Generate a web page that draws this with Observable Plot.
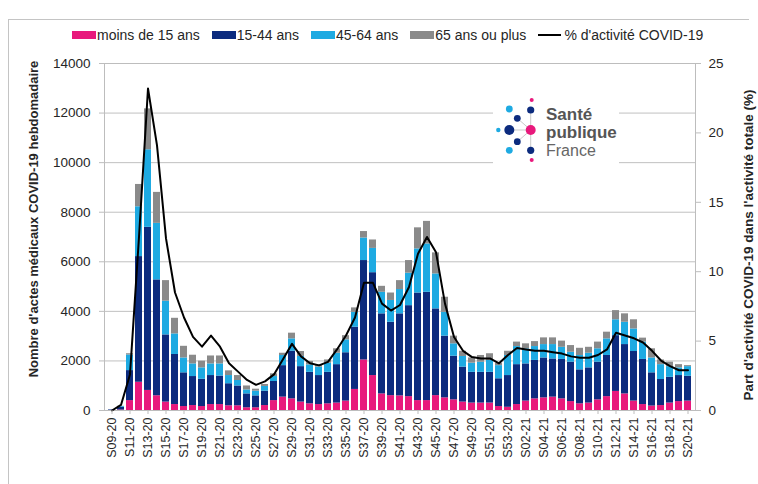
<!DOCTYPE html>
<html><head><meta charset="utf-8">
<script src="https://cdn.jsdelivr.net/npm/d3@7"></script>
<script src="https://cdn.jsdelivr.net/npm/@observablehq/plot@0.6"></script>
<style>
body{margin:0;background:#fff;font-family:"Liberation Sans",Arial,sans-serif;}
#wrap{position:relative;width:758px;height:484px;overflow:hidden;}
#border{position:absolute;left:8px;top:19px;width:740px;height:500px;border-left:1px solid #c4c4c4;border-top:1px solid #c4c4c4;}
#chart{position:absolute;left:0;top:0;}
#legend{position:absolute;left:72px;top:27px;display:flex;align-items:center;font-size:14px;color:#262626;white-space:nowrap;}
#legend .it{display:flex;align-items:center;margin-right:12px;}
#legend .sw{width:24px;height:8px;margin-right:1px;}
#legend .ln{width:23px;height:2px;background:#000;margin-right:3px;}
#logo{position:absolute;left:493px;top:92px;}
</style></head>
<body>
<div id="wrap">
  <div id="border"></div>
  <div id="chart"></div>
  <div id="legend"></div>
  <svg id="logo" width="130" height="72" viewBox="493 92 130 72"></svg>
</div>
<script>
const weeks = ["S09-20","S10-20","S11-20","S12-20","S13-20","S14-20","S15-20","S16-20","S17-20","S18-20",
"S19-20","S20-20","S21-20","S22-20","S23-20","S24-20","S25-20","S26-20","S27-20","S28-20",
"S29-20","S30-20","S31-20","S32-20","S33-20","S34-20","S35-20","S36-20","S37-20","S38-20",
"S39-20","S40-20","S41-20","S42-20","S43-20","S44-20","S45-20","S46-20","S47-20","S48-20",
"S49-20","S50-20","S51-20","S52-20","S53-20",
"S01-21","S02-21","S03-21","S04-21","S05-21","S06-21","S07-21","S08-21","S09-21","S10-21",
"S11-21","S12-21","S13-21","S14-21","S15-21","S16-21","S17-21","S18-21","S19-21","S20-21"];

const moins15 = [5,20,400,1140,810,595,340,240,160,200,160,240,240,190,190,110,110,200,400,540,
470,340,270,240,270,300,380,850,2040,1410,670,600,590,560,400,400,600,510,430,340,300,300,300,160,130,
240,380,470,510,540,470,360,270,300,430,560,770,670,380,240,180,200,300,360,380];
const age15_44 = [20,110,1210,5070,6580,4675,2710,2020,1360,1170,1100,1170,1150,890,800,560,480,580,770,1270,
1920,1430,1270,1170,1270,1550,1950,2510,4010,4150,3230,2960,3310,3670,4340,4370,3500,2490,1760,1410,1240,1240,1240,1120,1280,
1610,1500,1550,1610,1540,1590,1590,1370,1420,1520,1660,2250,1990,2000,1820,1340,1050,1040,1050,1000];
const age45_64 = [5,30,630,2010,3130,2280,1360,830,600,510,460,470,490,330,220,160,190,190,200,410,
500,410,300,340,370,460,520,600,910,980,870,880,980,1310,1780,1950,1410,960,500,430,370,410,480,530,810,
730,610,560,540,580,490,400,580,590,540,670,640,900,910,700,600,600,430,310,390];
const age65plus = [0,10,50,900,1650,1250,830,630,470,350,270,320,320,190,200,160,80,80,110,90,
230,200,140,90,130,180,170,180,260,340,240,300,360,510,850,910,850,610,310,210,210,270,270,100,170,
180,200,200,270,270,250,270,290,240,270,270,370,340,370,160,370,190,180,130,40];
const pctActivite = [0,0.4,2.6,12.5,23.2,19.1,12.4,8.5,6.7,5.3,4.6,5.4,4.6,3.4,2.8,2.2,1.85,2.1,2.6,3.7,
4.8,3.9,3.4,3.25,3.5,4.4,5.4,6.7,9.2,9.2,7.7,7.2,7.6,8.9,11.3,12.5,11.4,7.7,5.3,4.3,3.85,3.75,3.75,3.4,4.0,
4.5,4.4,4.3,4.3,4.2,4.1,3.9,3.8,3.8,4.0,4.4,5.6,5.4,5.2,4.9,4.3,3.6,3.2,2.9,2.9];

const groups = ["moins de 15 ans","15-44 ans","45-64 ans","65 ans ou plus"];
const colors = ["#e8197c","#0c2b7e","#1eaae2","#8a8a8a"];
const leftTicks = [0,2000,4000,6000,8000,10000,12000,14000];
const rightTicks = [0,5,10,15,20,25];
const lineLabel = "% d'activité COVID-19";
const leftTitle = "Nombre d'actes médicaux COVID-19 hebdomadaire";
const rightTitle = "Part d'activité COVID-19 dans l'activité totale (%)";

const series = [moins15, age15_44, age45_64, age65plus];
const rows = weeks.flatMap((w, i) => series.map((s, k) => ({week: w, group: groups[k], value: s[i]})));
const k = 14000 / 25;

const chart = Plot.plot({
  width: 758, height: 484,
  marginTop: 63, marginBottom: 74, marginLeft: 104, marginRight: 63,
  style: {fontFamily: "Liberation Sans, Arial, sans-serif", fontSize: "13.5px", color: "#262626", background: "transparent", overflow: "visible"},
  x: {domain: weeks, padding: 0.25, label: null},
  y: {domain: [0, 14000], label: null},
  color: {domain: groups, range: colors},
  marks: [
    Plot.gridY({ticks: leftTicks, stroke: "#c0c0c0", strokeOpacity: 1}),
    Plot.barY(rows, {x: "week", y: "value", fill: "group", order: groups}),
    Plot.frame({stroke: "#bdbdbd"}),
    Plot.line(pctActivite, {x: (d, i) => weeks[i], y: d => d * k, stroke: "#000", strokeWidth: 2}),
    Plot.axisY({ticks: leftTicks, tickFormat: d3.format("d"), tickSize: 5, tickPadding: 9, stroke: "#bdbdbd", label: null}),
    Plot.axisY({anchor: "right", ticks: rightTicks.map(t => t * k), tickFormat: d => String(Math.round(d / k)), tickSize: 5, tickPadding: 8, stroke: "#bdbdbd", label: null}),
    Plot.axisX({ticks: weeks.filter((d, i) => i % 2 === 0), tickRotate: -90, tickSize: 4, tickPadding: 3, fontSize: 12.5, stroke: "#bdbdbd", label: null}),
    Plot.text([leftTitle], {frameAnchor: "left", textAnchor: "middle", dx: -71, dy: -18, rotate: -90, fontWeight: "bold", fontSize: 13, fill: "#262626"}),
    Plot.text([rightTitle], {frameAnchor: "right", textAnchor: "middle", dx: 53, dy: 8, rotate: -90, fontWeight: "bold", fontSize: 13.5, fill: "#262626"})
  ]
});
document.getElementById("chart").appendChild(chart);

// legend
const leg = document.getElementById("legend");
groups.forEach((g, i) => {
  const it = document.createElement("div"); it.className = "it";
  it.innerHTML = `<span class="sw" style="background:${colors[i]}"></span><span>${g}</span>`;
  leg.appendChild(it);
});
const it = document.createElement("div"); it.className = "it";
it.innerHTML = `<span class="ln"></span><span>${lineLabel}</span>`;
leg.appendChild(it);

// logo
const logo = d3.select("#logo");
logo.append("rect").attr("x", 493).attr("y", 92).attr("width", 126).attr("height", 72).attr("fill", "#fff");
const c = [530.7, 130];
[[509.3,130],[517.3,118.3],[517.3,141.7],[530.7,110],[530.7,150.3]].forEach(p =>
  logo.append("line").attr("x1", c[0]).attr("y1", c[1]).attr("x2", p[0]).attr("y2", p[1]).attr("stroke", "#c9c9c9").attr("stroke-width", 1));
const dots = [
  [531.7,100,2,"#e8197c"],[509.3,109,3.4,"#1eaae2"],[530.7,110,3.6,"#0c2b7e"],[517.3,118.3,3.4,"#0c2b7e"],
  [498.3,130,2.2,"#1eaae2"],[509.3,130,5,"#0c2b7e"],[530.7,130,5,"#e8197c"],[517.3,141.7,3.4,"#0c2b7e"],
  [509.3,150.3,3.4,"#1eaae2"],[530.7,150.3,3.6,"#0c2b7e"],[531.7,160,2,"#e8197c"]];
dots.forEach(d => logo.append("circle").attr("cx", d[0]).attr("cy", d[1]).attr("r", d[2]).attr("fill", d[3]));
const tf = "Liberation Sans, Arial, sans-serif";
logo.append("text").attr("x", 546).attr("y", 120).attr("font-family", tf).attr("font-weight", "bold").attr("font-size", 17).attr("fill", "#555").text("Santé");
logo.append("text").attr("x", 546).attr("y", 137.5).attr("font-family", tf).attr("font-weight", "bold").attr("font-size", 17).attr("fill", "#555").text("publique");
logo.append("text").attr("x", 546).attr("y", 155.5).attr("font-family", tf).attr("font-size", 16).attr("fill", "#666").text("France");
</script>
</body></html>
